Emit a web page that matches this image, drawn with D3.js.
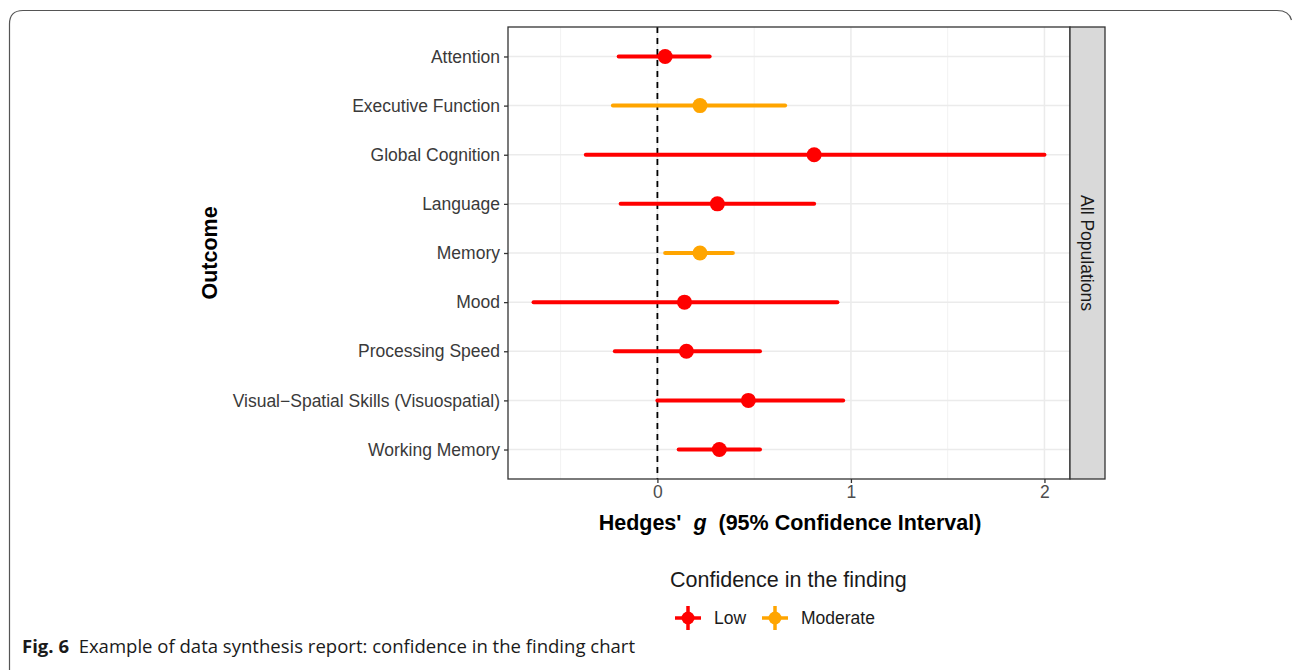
<!DOCTYPE html>
<html>
<head>
<meta charset="utf-8">
<script src="https://cdn.jsdelivr.net/npm/d3@7"></script>
<style>
  body { margin: 0; background: #fff; }
  svg { display: block; }
</style>
</head>
<body>
<div id="chart"></div>
<script>
// Outcomes (top to bottom), Hedges' g estimates with 95% CI, and confidence rating
const outcomes = ["Attention", "Executive Function", "Global Cognition", "Language", "Memory",
                  "Mood", "Processing Speed", "Visual\u2212Spatial Skills (Visuospatial)", "Working Memory"]
const estimates = [0.04, 0.22, 0.81, 0.31, 0.22, 0.14, 0.15, 0.47, 0.32]
const lowerCI   = [-0.20, -0.23, -0.37, -0.19, 0.04, -0.64, -0.22, 0.00, 0.11]
const upperCI   = [0.27, 0.66, 2.00, 0.81, 0.39, 0.93, 0.53, 0.96, 0.53]
const confidence = ["Low", "Moderate", "Low", "Low", "Moderate", "Low", "Low", "Low", "Low"]
const levels = ["Low", "Moderate"]
const xTicks = [0, 1, 2]
const xMinor = [-0.5, 0.5, 1.5]

const WIDTH = 1293
const HEIGHT = 670
const PLOT = {LEFT: 508, RIGHT: 1070, TOP: 27, BOTTOM: 479}
const STRIP = {LEFT: 1070, RIGHT: 1105}
const FONT = "'Liberation Sans', Arial, sans-serif"

const data = outcomes.map((o, i) => ({outcome: o, est: estimates[i], lo: lowerCI[i], hi: upperCI[i], conf: confidence[i]}))

let svg = d3.select("#chart").append("svg")
    .attr("width", WIDTH)
    .attr("height", HEIGHT)
    .style("font-family", FONT)

// outer figure frame (left, top and top-right corner only)
svg.append("path")
    .attr("d", "M9.5,680 L9.5,24 Q9.5,10.5 23,10.5 L1277,10.5 Q1289,10.5 1291.5,20")
    .attr("fill", "none")
    .attr("stroke", "#555")
    .attr("stroke-width", 1.2)

// scales, with ggplot-style 5% expansion
let lo = d3.min(lowerCI), hi = d3.max(upperCI)
let pad = (hi - lo) * 0.05
let xScale = d3.scaleLinear()
    .domain([lo - pad, hi + pad])
    .range([PLOT.LEFT, PLOT.RIGHT])

let yScale = d3.scalePoint()
    .domain(outcomes)
    .range([PLOT.TOP, PLOT.BOTTOM])
    .padding(0.6)

let colourScale = d3.scaleOrdinal()
    .domain(levels)
    .range(["#ff0000", "#ffa500"])

// panel background + grid
svg.append("rect")
    .attr("x", PLOT.LEFT).attr("y", PLOT.TOP)
    .attr("width", PLOT.RIGHT - PLOT.LEFT).attr("height", PLOT.BOTTOM - PLOT.TOP)
    .attr("fill", "#fff")

svg.append("g").selectAll("line")
    .data(xMinor)
    .join("line")
        .attr("x1", d => xScale(d)).attr("x2", d => xScale(d))
        .attr("y1", PLOT.TOP).attr("y2", PLOT.BOTTOM)
        .attr("stroke", "#f2f2f2").attr("stroke-width", 1)

svg.append("g").selectAll("line")
    .data(xTicks)
    .join("line")
        .attr("x1", d => xScale(d)).attr("x2", d => xScale(d))
        .attr("y1", PLOT.TOP).attr("y2", PLOT.BOTTOM)
        .attr("stroke", "#ebebeb").attr("stroke-width", 1.5)

svg.append("g").selectAll("line")
    .data(outcomes)
    .join("line")
        .attr("x1", PLOT.LEFT).attr("x2", PLOT.RIGHT)
        .attr("y1", d => yScale(d)).attr("y2", d => yScale(d))
        .attr("stroke", "#ebebeb").attr("stroke-width", 1.5)

// reference line at zero
svg.append("line")
    .attr("x1", xScale(0)).attr("x2", xScale(0))
    .attr("y1", PLOT.TOP).attr("y2", PLOT.BOTTOM)
    .attr("stroke", "#000").attr("stroke-width", 1.8)
    .attr("stroke-dasharray", "6,5")

// confidence intervals
svg.append("g").selectAll("line")
    .data(data)
    .join("line")
        .attr("x1", d => xScale(d.lo)).attr("x2", d => xScale(d.hi))
        .attr("y1", d => yScale(d.outcome)).attr("y2", d => yScale(d.outcome))
        .attr("stroke", d => colourScale(d.conf))
        .attr("stroke-width", 4)
        .attr("stroke-linecap", "round")

// point estimates
svg.append("g").selectAll("circle")
    .data(data)
    .join("circle")
        .attr("cx", d => xScale(d.est))
        .attr("cy", d => yScale(d.outcome))
        .attr("r", 7.5)
        .attr("fill", d => colourScale(d.conf))

// panel border
svg.append("rect")
    .attr("x", PLOT.LEFT).attr("y", PLOT.TOP)
    .attr("width", PLOT.RIGHT - PLOT.LEFT).attr("height", PLOT.BOTTOM - PLOT.TOP)
    .attr("fill", "none").attr("stroke", "#333").attr("stroke-width", 1.3)

// facet strip
svg.append("rect")
    .attr("x", STRIP.LEFT).attr("y", PLOT.TOP)
    .attr("width", STRIP.RIGHT - STRIP.LEFT).attr("height", PLOT.BOTTOM - PLOT.TOP)
    .attr("fill", "#d9d9d9").attr("stroke", "#333").attr("stroke-width", 1.3)

svg.append("text")
    .attr("transform", `translate(${(STRIP.LEFT + STRIP.RIGHT) / 2},${(PLOT.TOP + PLOT.BOTTOM) / 2}) rotate(90)`)
    .attr("text-anchor", "middle")
    .attr("dy", "0.35em")
    .attr("font-size", 17.5)
    .attr("fill", "#1a1a1a")
    .text("All Populations")

// x axis
let xAxis = svg.append("g")
    .attr("transform", "translate(0," + PLOT.BOTTOM + ")")
    .call(d3.axisBottom(xScale).tickValues(xTicks).tickFormat(d3.format("d")).tickSize(4).tickPadding(3))
xAxis.select(".domain").remove()
xAxis.selectAll("line").attr("stroke", "#333").attr("stroke-width", 1.3)
xAxis.selectAll("text").attr("font-size", 17.5).attr("fill", "#4d4d4d").style("font-family", FONT)

// y axis
let yAxis = svg.append("g")
    .attr("transform", "translate(" + PLOT.LEFT + ",0)")
    .call(d3.axisLeft(yScale).tickSize(4).tickPadding(4))
yAxis.select(".domain").remove()
yAxis.selectAll("line").attr("stroke", "#333").attr("stroke-width", 1.3)
yAxis.selectAll("text").attr("font-size", 17.5).attr("fill", "#3a3a3a").style("font-family", FONT)

// axis titles
let xTitle = svg.append("text")
    .attr("x", 790)
    .attr("y", 530)
    .attr("text-anchor", "middle")
    .attr("font-size", 21.5)
    .attr("font-weight", "bold")
    .attr("fill", "#000")
xTitle.append("tspan").text("Hedges'\u00a0\u00a0")
xTitle.append("tspan").attr("font-style", "italic").text("g")
xTitle.append("tspan").text("\u00a0\u00a0(95% Confidence Interval)")

svg.append("text")
    .attr("transform", `translate(217,${(PLOT.TOP + PLOT.BOTTOM) / 2}) rotate(-90)`)
    .attr("text-anchor", "middle")
    .attr("font-size", 21.5)
    .attr("font-weight", "bold")
    .attr("fill", "#000")
    .text("Outcome")

// legend
svg.append("text")
    .attr("x", 670).attr("y", 587)
    .attr("font-size", 21.5)
    .attr("fill", "#1a1a1a")
    .text("Confidence in the finding")

let legendX = d3.scaleOrdinal().domain(levels).range([688, 775])
let key = svg.append("g").selectAll("g")
    .data(levels)
    .join("g")
        .attr("transform", d => `translate(${legendX(d)},618)`)
key.append("line")
    .attr("x1", -13).attr("x2", 13)
    .attr("stroke", d => colourScale(d)).attr("stroke-width", 3.5)
key.append("line")
    .attr("y1", -12).attr("y2", 12)
    .attr("stroke", d => colourScale(d)).attr("stroke-width", 3.5)
key.append("circle")
    .attr("r", 6.5)
    .attr("fill", d => colourScale(d))
key.append("text")
    .attr("x", 26).attr("dy", "0.35em")
    .attr("font-size", 17.5)
    .attr("fill", "#1a1a1a")
    .text(d => d)

// figure caption
let cap = svg.append("text")
    .attr("x", 22).attr("y", 653)
    .attr("font-size", 18.5)
    .attr("fill", "#1a1a1a")
    .style("font-family", "'Open Sans', sans-serif")
    .attr("textLength", 613)
    .attr("lengthAdjust", "spacingAndGlyphs")
cap.append("tspan").attr("font-weight", "bold").text("Fig. 6")
cap.append("tspan").text("\u00a0\u00a0Example of data synthesis report: confidence in the finding chart")
</script>
</body>
</html>
